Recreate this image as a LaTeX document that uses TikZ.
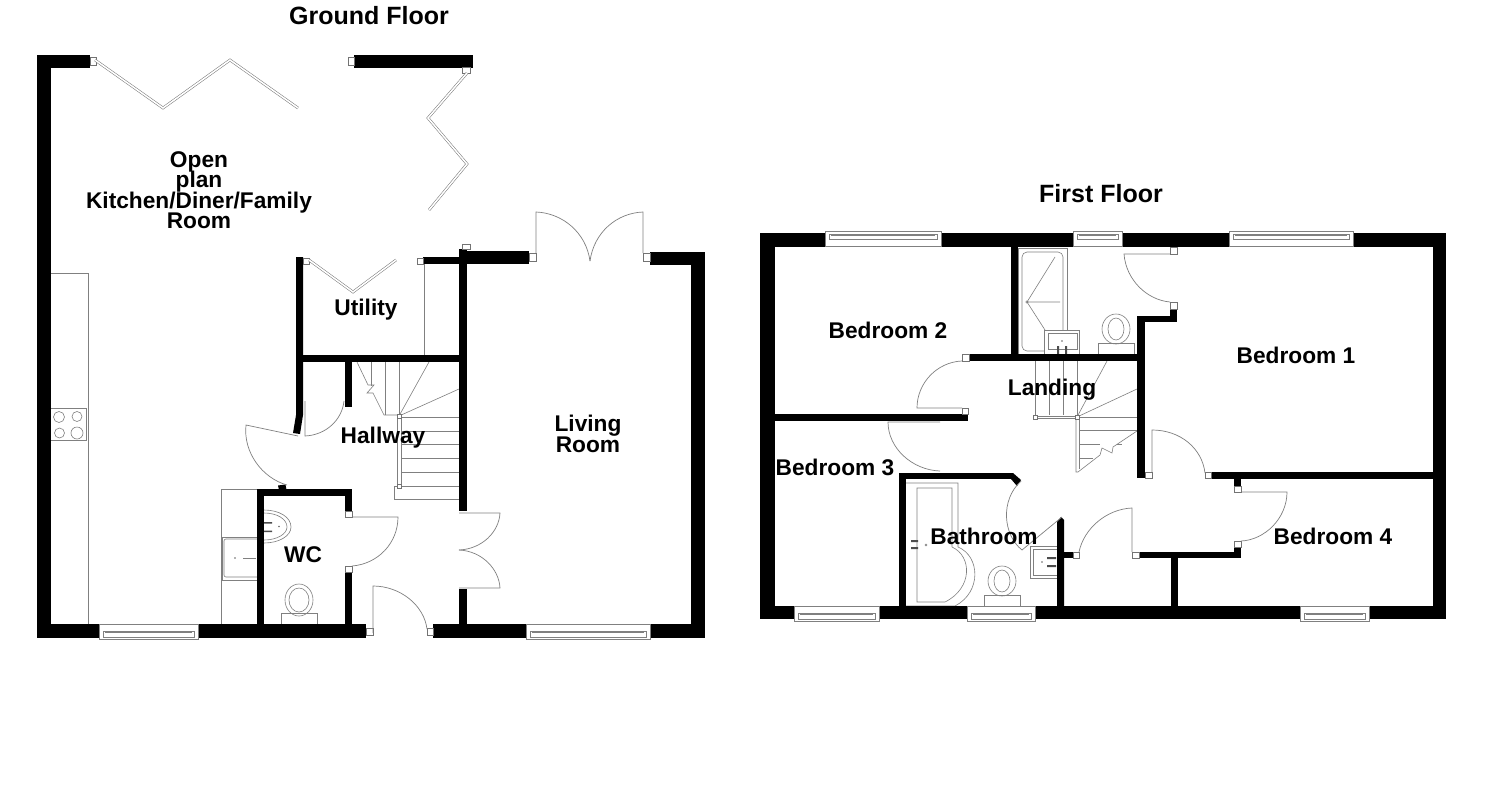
\documentclass[tikz,border=0pt]{standalone}
\usepackage{fontspec}
\setmainfont{Liberation Sans}
\newcommand\wl[4]{\fill[black] (#1,#2) rectangle (#3,#4);}
\newcommand\bx[4]{\draw[boxs] (#1,#2) rectangle (#3,#4);}
% window: x1 x2 ytop ybottom innertop innerbottom
\newcommand\winw[6]{\draw[fur,fill=white] (#1,#3) rectangle (#2,#4);
  \draw[fur] (#1+4,#5) rectangle (#2-4,#6);
  \draw[fur] (#1+6,#5+1.5) -- (#2-6,#5+1.5);}
\newcommand\labfont{\fontsize{22.7}{20.5}\selectfont\bfseries\lineskiplimit=-100pt\relax}
\tikzset{
  fur/.style={draw=black!50,line width=.6pt},
  dr/.style={draw=black!50,line width=.7pt},
  boxs/.style={draw=black!55,line width=.6pt,fill=white},
  bif/.style={draw=black!55,line width=.5pt,double=white,double distance=1.6pt,line join=miter},
  lab/.style={font=\labfont,align=center,inner sep=0pt,text=black},
  ttl/.style={font=\fontsize{25}{25}\selectfont\bfseries,align=center,inner sep=0pt,text=black},
}
\begin{document}
\begin{tikzpicture}[x=1pt,y=-1pt]
\useasboundingbox (0,0) rectangle (1488,809);
\fill[white] (0,0) rectangle (1488,809);
%%%%% GROUND FLOOR
% kitchen units
\draw[fur] (51,273) -- (88,273) -- (88,624);
\draw[fur] (51,408) -- (86,408) -- (86,440) -- (51,440);
\draw[fur] (59,417) circle (5.5pt) (77,416.5) circle (5pt) (59.5,433) circle (5pt) (77,433) circle (6pt);
\draw[fur] (257,489) -- (221,489) -- (221,624);
\draw[fur] (257,537) -- (222,537) -- (222,580) -- (257,580);
\draw[fur,rounded corners=2pt] (257,539) -- (224,539) -- (224,577) -- (257,577);
\fill[black!60] (235,558) circle (.9pt);
\draw[fur] (243,558) -- (256,558);
% WC fittings
\draw[fur] (264,510) .. controls (279,510) and (291,517) .. (291,527) .. controls (291,536) and (279,543) .. (264,543);
\draw[fur] (264,513) .. controls (277,513) and (287,519) .. (287,527) .. controls (287,534) and (277,540) .. (264,540);
\fill[black!70] (264,522) rectangle (272,523.5) (264,530.5) rectangle (272,532);
\fill[black!60] (279,526.5) circle (.9pt);
\draw[fur] (299,600) ellipse (14pt and 16pt) (299,600) ellipse (10pt and 12pt);
\draw[fur] (281,624) -- (281,613) -- (317,613) -- (317,624);
% stairs
\draw[fur] (424,264) -- (424,355);
\draw[fur] (371,362) -- (371,386) (385,362) -- (385,415) (399,362) -- (399,414);
\draw[fur] (357,362) -- (368,385) -- (374,385) -- (367,393) -- (373,393) -- (384,415) -- (397,415);
\draw[fur] (399,416) -- (429,362) (399,416) -- (459,389);
\foreach \y in {417,431,444,458,472,486} \draw[fur] (401,\y) -- (459,\y);
\draw[fur] (397,418) rectangle (401,484);
\draw[fur] (397,486) -- (394,486) -- (394,499) -- (459,499);
\bx{397}{414}{401}{418}
\bx{397}{484}{401}{488}
% walls
\wl{37}{55}{51}{637}
\wl{37}{55}{90}{67.5}
\wl{354}{55}{473}{67.5}
\wl{37}{624}{99}{637.5}
\wl{198}{624}{366}{637.5}
\wl{433}{624}{526}{637.5}
\wl{650}{624}{705}{637.5}
\wl{691}{252}{705}{637.5}
\wl{650}{252}{705}{265}
\wl{459}{251}{529}{264}
\wl{459}{249}{467}{511}
\wl{459}{589}{467}{630}
\wl{423}{257}{459}{264}
\fill[black] (296,257) -- (303,257) -- (303,415) -- (300,434) -- (293,433) -- (296,415) -- cycle;
\wl{296}{355}{459}{362}
\wl{345}{355}{352}{407}
\wl{257}{489}{352}{496}
\wl{257}{489}{264}{630}
\wl{345}{489}{352}{511}
\wl{345}{572}{352}{630}
\fill[black] (278,485.5) -- (285.5,484.5) -- (286.5,490) -- (279,490) -- cycle;
% windows
\winw{99}{198}{624}{639}{631}{637}
\winw{526}{650}{624}{639}{631}{637}
% door-jamb boxes
\bx{90}{57}{96}{65}
\bx{348}{57}{354}{65}
\bx{462}{67.5}{470}{73}
\bx{303}{258}{309}{264}
\bx{417}{258}{423}{264}
\bx{462}{244}{470}{249}
\bx{345}{511}{352}{517}
\bx{345}{566}{352}{572}
\bx{366}{628}{373}{635}
\bx{427}{628}{433}{635}
\bx{529}{253}{536}{261}
\bx{643}{253}{650}{261}
% bifolds
\draw[bif] (95,60) -- (163,108) -- (230,60) -- (298,108);
\draw[bif] (467,73) -- (428,118) -- (467,164) -- (429,210);
\draw[bif] (309,260) -- (353,292) -- (396,260);
% doors
\draw[dr] (305,401) -- (305,436) .. controls (326,435) and (342,420) .. (344,401);
\draw[dr] (298,436) -- (246,425) .. controls (243,452) and (262,478) .. (287,485);
\draw[dr] (352,517) -- (398,517) .. controls (398,543) and (378,564) .. (352,566);
\draw[dr] (459,513) -- (500,513) .. controls (499,532) and (482,549) .. (459,550);
\draw[dr] (459,588) -- (500,588) .. controls (499,569) and (482,551) .. (459,550);
\draw[dr] (373,633) -- (373,586) .. controls (400,586) and (424,605) .. (427,629);
\draw[dr] (536,253) -- (536,212) .. controls (562,213) and (586,232) .. (590,261);
\draw[dr] (643,253) -- (643,212) .. controls (617,213) and (594,232) .. (590,261);
% labels
\node[ttl] (gf) at (369,16) {Ground Floor};
\node[lab] (ok) at (199,190) {Open\\plan\\Kitchen/Diner/Family\\Room};
\node[lab] (ut) at (366,310) {Utility};
\node[lab] (hw) at (383,438) {Hallway};
\node[lab] (wc) at (303,555) {WC};
\node[lab] (lr) at (588,434) {Living\\Room};
%%%%% FIRST FLOOR
% fittings
\draw[fur] (1018,248) rectangle (1067,354);
\draw[fur,rounded corners=5pt] (1022,252) rectangle (1063,351);
\draw[fur] (1055,257) -- (1027,302) -- (1060,302) (1027,302) -- (1045,330);
\draw[fur] (1027,302) circle (1.2pt);
\draw[fur,fill=white] (1044,330) rectangle (1079,354);
\draw[fur] (1048,333) rectangle (1077,349);
\fill[black!60] (1062,341) circle (.9pt);
\fill[black!70] (1057,346) rectangle (1059,354) (1065,346) rectangle (1067,354);
\draw[fur] (1116,329) ellipse (14pt and 15pt) (1116,329) ellipse (8pt and 11pt);
\draw[fur] (1098,354) -- (1098,343) -- (1134,343) -- (1134,354);
% stairs
\foreach \x in {1035,1049,1063,1077} \draw[fur] (\x,361) -- (\x,415);
\draw[fur] (1037,416) -- (1075,416) (1037,418) -- (1075,418);
\draw[fur] (1077,417) -- (1107,361) (1077,417) -- (1137,389);
\draw[fur] (1079,417) -- (1137,417) (1079,430) -- (1137,430) (1079,444) -- (1100,444) (1079,458) -- (1093,458) (1117,444) -- (1122,444);
\draw[fur] (1137,431) -- (1113,447) -- (1112,453) -- (1102,448) -- (1100,455) -- (1078,472) -- (1076,472) -- (1076,419);
\draw[fur] (1079,419) -- (1079,469);
\bx{1033}{415}{1037}{419}
\bx{1075}{415}{1079}{419}
% bath
\draw[fur] (906,483) -- (958,483) -- (958,547) .. controls (980,556) and (982,592) .. (955,606) -- (906,606);
\draw[fur] (917,488) -- (952,488) -- (952,547) .. controls (972,556) and (973,588) .. (945,602) -- (917,602) -- cycle;
\fill[black!70] (911,540) rectangle (918,542) (911,547) rectangle (918,549);
\draw[fur] (926,545) circle (1pt);
\draw[fur] (1002,581) ellipse (14pt and 15pt) (1002,581) ellipse (8pt and 11pt);
\draw[fur] (984,606) -- (984,595) -- (1020,595) -- (1020,606);
\draw[fur] (1057,546) -- (1030,546) -- (1030,578) -- (1057,578);
\draw[fur] (1057,549) -- (1033,549) -- (1033,575) -- (1057,575);
\fill[black!60] (1042,562) circle (.9pt);
\fill[black!70] (1047,557) rectangle (1056,559) (1047,565) rectangle (1056,567);
% walls
\wl{760}{233}{775}{619}
\wl{760}{233}{1446}{246.5}
\wl{1433}{233}{1446}{619}
\wl{760}{606}{1446}{619}
\wl{1011}{233}{1018}{361}
\wl{969}{354}{1145}{361}
\wl{1137}{316}{1145}{478}
\wl{1137}{316}{1177}{322}
\wl{1170}{309}{1177}{322}
\wl{775}{414}{968}{421}
\wl{899}{473}{906}{606}
\wl{899}{473}{1013}{479}
\fill[black] (1013,473) -- (1021,480) -- (1017,486) -- (1011,479) -- cycle;
\fill[black] (1057,522) -- (1061,517) -- (1064,520) -- (1064,606) -- (1057,606) -- cycle;
\wl{1064}{552}{1073}{557.5}
\wl{1139}{552}{1241}{557.5}
\wl{1234}{547}{1241}{557.5}
\wl{1171}{552}{1178}{606}
\wl{1211}{472}{1433}{479}
\wl{1234}{472}{1241}{486}
% windows
\winw{825}{941}{231}{246}{234}{239}
\winw{1073}{1122}{231}{246}{234}{239}
\winw{1229}{1353}{231}{246}{234}{239}
\winw{794}{879}{606}{621}{613}{619}
\winw{967}{1035}{606}{621}{613}{619}
\winw{1300}{1369}{606}{621}{613}{619}
% jamb boxes
\bx{1170}{247}{1177}{254}
\bx{1170}{302}{1177}{309}
\bx{962}{354}{969}{361}
\bx{962}{408}{968}{414}
\bx{1145}{472}{1152}{478}
\bx{1205}{472}{1211}{478}
\bx{1234}{486}{1241}{492}
\bx{1234}{541}{1241}{547}
\bx{1073}{552}{1079}{558}
\bx{1132}{552}{1139}{558}
% doors
\draw[dr] (1170,254) -- (1124,254) .. controls (1126,280) and (1147,300) .. (1170,302);
\draw[dr] (962,361) .. controls (937,362) and (917,383) .. (917,408) -- (962,408);
\draw[dr] (940,422) -- (888,422) .. controls (888,448) and (912,470) .. (940,471);
\draw[dr] (1021,481) .. controls (1000,500) and (1003,535) .. (1022,550) -- (1062,517);
\draw[dr] (1079,552) .. controls (1084,528) and (1107,509) .. (1132,508) -- (1132,552);
\draw[dr] (1152,472) -- (1152,430) .. controls (1180,430) and (1202,448) .. (1205,473);
\draw[dr] (1241,492) -- (1287,492) .. controls (1287,518) and (1265,540) .. (1241,541);
% labels
\node[ttl] (ff) at (1101,194) {First Floor};
\node[lab] (b2) at (888,330) {Bedroom 2};
\node[lab] (b1) at (1296,355) {Bedroom 1};
\node[lab] (ld) at (1052,390) {Landing};
\node[lab] (b3) at (835,467) {Bedroom 3};
\node[lab] (ba) at (984,536) {Bathroom};
\node[lab] (b4) at (1333,536) {Bedroom 4};
\end{tikzpicture}
\end{document}
